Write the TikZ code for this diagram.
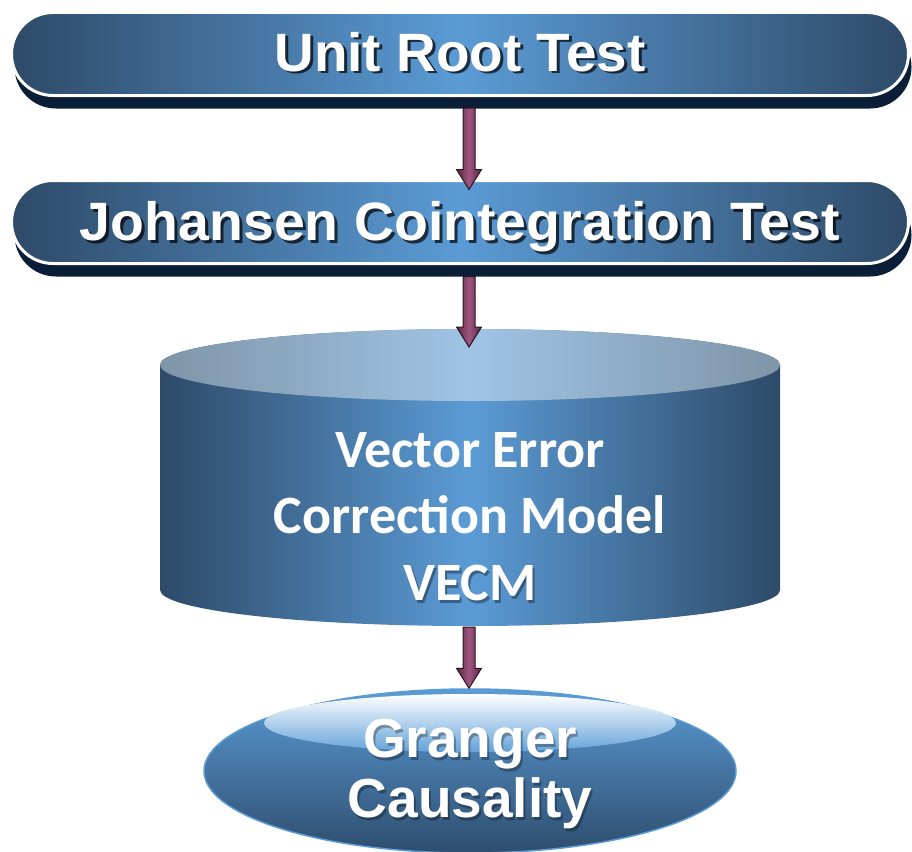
\documentclass[tikz,border=0pt]{standalone}
\usepackage{graphicx}
\usepackage{fontspec}
\setmainfont{Liberation Sans}
\newfontfamily\calib{Carlito}
\usetikzlibrary{calc,shadows,shapes.geometric}
\definecolor{bdark}{HTML}{2E4A68}
\definecolor{bmid}{HTML}{5B9BD5}
\definecolor{shad}{HTML}{0B1E38}
\definecolor{tdark}{HTML}{7F95A8}
\definecolor{tmid}{HTML}{A0C4E5}
\definecolor{adark}{HTML}{55283E}
\definecolor{amid}{HTML}{A05580}
\definecolor{aline}{HTML}{2A1420}
\definecolor{edark}{HTML}{2E4D6E}
\definecolor{hlow}{HTML}{64A2D9}
\newcommand\fatarr[2]{%
  \path[fatarrow] let \p1=(#1), \p2=(#2) in
    (\x2-6pt,\y1) -- (\x2+6pt,\y1) -- (\x2+6pt,\y2+20pt) -- (\x2+12.5pt,\y2+20pt)
    -- (\x2,\y2) -- (\x2-12.5pt,\y2+20pt) -- (\x2-6pt,\y2+20pt) -- cycle;}
\begin{document}
\begin{tikzpicture}[x=1pt,y=-1pt,
  bar/.style={draw=white, line width=3pt, rounded corners=41.5pt,
    minimum width=897pt, minimum height=83pt, inner sep=0pt,
    left color=bdark, right color=bdark, middle color=bmid,
    drop shadow={shadow xshift=3pt, shadow yshift=-13pt, fill=shad, opacity=1}},
  boxtxt/.style={text=white, font=\bfseries\fontsize{54}{54}\selectfont, anchor=base, inner sep=0pt},
  boxsh/.style={boxtxt, text=black, opacity=.7},
  cyltxt/.style={text=white, font=\calib\bfseries\fontsize{54}{54}\selectfont, anchor=base, inner sep=0pt},
  cylsh/.style={cyltxt, text=black, opacity=.35},
  gtxt/.style={text=white, font=\bfseries\fontsize{55}{55}\selectfont, anchor=base, inner sep=0pt},
  gsh/.style={gtxt, text=black, opacity=.3},
  fatarrow/.style={draw=aline, line width=1pt, left color=adark, right color=adark, middle color=amid},
  oval/.style={ellipse, minimum width=532pt, minimum height=164pt, inner sep=0pt,
    top color=bmid, bottom color=edark, draw=bmid, line width=1.5pt}
]
\useasboundingbox (0,0) rectangle (912,851);

% box 1
\node[bar] (u) at (460,54) {};
\node[boxsh] at (463,74) {\resizebox{371pt}{\height}{Unit Root Test}};
\node[boxtxt] (ut) at (460,71) {\resizebox{371pt}{\height}{Unit Root Test}};

% box 2
\node[bar] (j) at (460,222) {};
\node[boxsh] at (463,243) {\resizebox{760pt}{\height}{Johansen Cointegration Test}};
\node[boxtxt] (jt) at (460,240) {\resizebox{760pt}{\height}{Johansen Cointegration Test}};

% cylinder
\coordinate (vtop) at (470,329);
\coordinate (vbot) at (470,626);
\shade[left color=bdark, right color=bdark, middle color=bmid]
  (160,365) -- (160,590) arc[start angle=180, end angle=360, x radius=310pt, y radius=36pt]
  -- (780,365) arc[start angle=0, end angle=180, x radius=310pt, y radius=36pt] -- cycle;
\shade[left color=tdark, right color=tdark, middle color=tmid]
  (470,365) ellipse[x radius=310pt, y radius=36pt];
\node[cyltxt] (v1) at (470,467) {Vector Error};
\node[cyltxt] (v2) at (470,533) {Correction Model};
\node[cylsh] at (472,603) {VECM};
\node[cyltxt] (v3) at (470,600) {VECM};

% oval
\node[oval] (g) at (470,771) {};
\shade[top color=white, bottom color=hlow] (470,723) ellipse[x radius=206pt, y radius=29pt];
\node[gsh] at (472,760) {Granger};
\node[gtxt] (g1) at (470,757) {Granger};
\node[gsh] at (472,820) {Causality};
\node[gtxt] (g2) at (470,817) {Causality};

% arrows
\fatarr{$(u.south)+(9,11)$}{$(j.north)+(9,10.5)$}
\fatarr{$(j.south)+(9,11.5)$}{$(vtop)+(-1,18)$}
\fatarr{$(vbot)+(-1,1)$}{$(g.north)+(-1,0)$}
\end{tikzpicture}
\end{document}
